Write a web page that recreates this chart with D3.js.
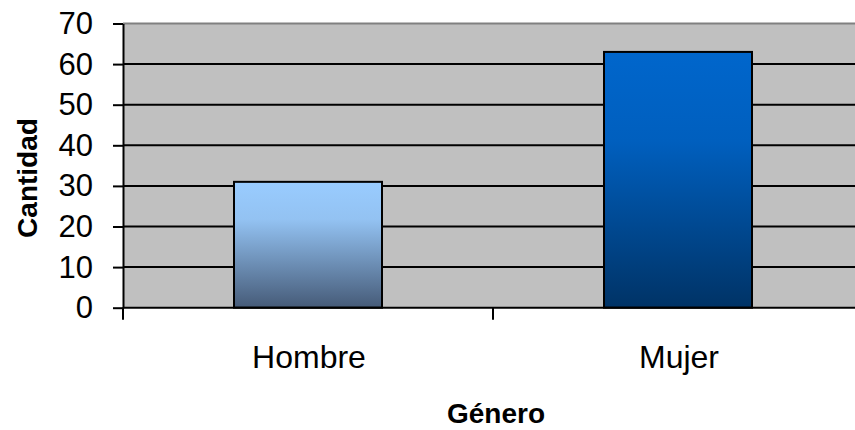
<!DOCTYPE html>
<html>
<head>
<meta charset="utf-8">
<script src="https://cdn.jsdelivr.net/npm/d3@7"></script>
<style>
  html, body { margin: 0; padding: 0; background: #ffffff; }
  svg { display: block; }
  text { font-family: Arial, "Liberation Sans", sans-serif; fill: #000; }
</style>
</head>
<body>
<svg id="chart" width="855" height="430"></svg>
<script>
// Respondents by gender
const categories = ["Hombre", "Mujer"];
const values = [31, 63];
const yTicks = [0, 10, 20, 30, 40, 50, 60, 70];
const xTitle = "Género";
const yTitle = "Cantidad";

const svg = d3.select("#chart");
const plot = { left: 123, right: 863, top: 23.5, bottom: 307.7 };

const x = d3.scaleBand()
  .domain(categories)
  .range([plot.left, plot.right])
  .paddingInner(0.6)
  .paddingOuter(0.3);

const y = d3.scaleLinear()
  .domain([0, 70])
  .range([plot.bottom, plot.top]);

// Gradients for the two bars
const defs = svg.append("defs");
const gradStops = [
  [["0%", "#99ccff"], ["30%", "#93c2f2"], ["100%", "#465b78"]],
  [["0%", "#0066cc"], ["35%", "#005fbe"], ["100%", "#003366"]]
];
gradStops.forEach((stops, i) => {
  const g = defs.append("linearGradient")
    .attr("id", "barGrad" + i)
    .attr("x1", 0).attr("y1", 0).attr("x2", 0).attr("y2", 1);
  stops.forEach(s => g.append("stop").attr("offset", s[0]).attr("stop-color", s[1]));
});

// Plot background
svg.append("rect")
  .attr("x", plot.left).attr("y", plot.top)
  .attr("width", plot.right - plot.left)
  .attr("height", plot.bottom - plot.top)
  .attr("fill", "#c0c0c0");

// Top frame line
svg.append("line")
  .attr("x1", plot.left).attr("x2", plot.right)
  .attr("y1", plot.top).attr("y2", plot.top)
  .attr("stroke", "#808080").attr("stroke-width", 2);

// Horizontal gridlines
svg.append("g")
  .selectAll("line")
  .data(yTicks.filter(t => t > 0 && t < 70))
  .join("line")
  .attr("x1", plot.left).attr("x2", plot.right)
  .attr("y1", d => y(d)).attr("y2", d => y(d))
  .attr("stroke", "#000").attr("stroke-width", 2);

// Bars
svg.append("g")
  .selectAll("rect")
  .data(categories.map((c, i) => ({ c, v: values[i], i })))
  .join("rect")
  .attr("x", d => x(d.c))
  .attr("y", d => y(d.v))
  .attr("width", x.bandwidth())
  .attr("height", d => y(0) - y(d.v))
  .attr("fill", d => "url(#barGrad" + d.i + ")")
  .attr("stroke", "#000")
  .attr("stroke-width", 2);

// Y axis
const yAxis = svg.append("g")
  .attr("transform", `translate(${plot.left},0)`)
  .call(d3.axisLeft(y).tickValues(yTicks).tickSize(10).tickSizeOuter(0).tickPadding(20));
yAxis.select(".domain").attr("stroke", "#000").attr("stroke-width", 2);
yAxis.selectAll(".tick line").attr("stroke", "#000").attr("stroke-width", 2);
yAxis.selectAll(".tick text")
  .attr("font-family", "Arial, 'Liberation Sans', sans-serif")
  .attr("font-size", 31)
  .attr("fill", "#000");

// X axis baseline and category boundary ticks
const xAxis = svg.append("g");
xAxis.append("line")
  .attr("x1", plot.left).attr("x2", plot.right)
  .attr("y1", plot.bottom).attr("y2", plot.bottom)
  .attr("stroke", "#000").attr("stroke-width", 2);
const step = x.step();
const bounds = d3.range(categories.length + 1).map(i => x(categories[0]) - x.paddingOuter() * step + i * step);
xAxis.selectAll("line.tk")
  .data(bounds)
  .join("line")
  .attr("class", "tk")
  .attr("x1", d => d).attr("x2", d => d)
  .attr("y1", plot.bottom).attr("y2", plot.bottom + 12)
  .attr("stroke", "#000").attr("stroke-width", 2);
xAxis.selectAll("text")
  .data(categories)
  .join("text")
  .attr("x", d => x(d) + x.bandwidth() / 2 + 1)
  .attr("y", 367.5)
  .attr("text-anchor", "middle")
  .attr("font-size", 32)
  .text(d => d);

// Axis titles
svg.append("text")
  .attr("x", 496).attr("y", 423)
  .attr("text-anchor", "middle")
  .attr("font-size", 28)
  .attr("font-weight", "bold")
  .text(xTitle);

svg.append("text")
  .attr("transform", "translate(37,178) rotate(-90)")
  .attr("text-anchor", "middle")
  .attr("font-size", 28)
  .attr("font-weight", "bold")
  .text(yTitle);
</script>
</body>
</html>
